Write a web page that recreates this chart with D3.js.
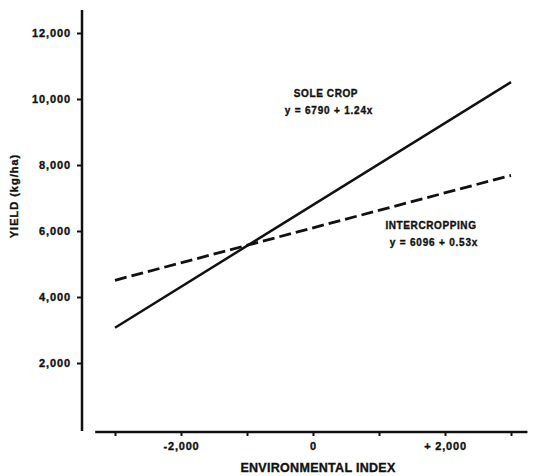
<!DOCTYPE html>
<html>
<head>
<meta charset="utf-8">
<script src="https://cdn.jsdelivr.net/npm/d3@7"></script>
<style>
  body { margin: 0; background: #fff; }
  svg text { font-family: "Liberation Sans", Arial, sans-serif; font-weight: bold; fill: #111; stroke: #111; stroke-width: 0.35px; }
</style>
</head>
<body>
<div id="chart"></div>
<script>
// Data
const envIndex = [-3000, 3000];
const soleCrop = [3070, 10510];     // y = 6790 + 1.24x
const intercrop = [4506, 7686];     // y = 6096 + 0.53x
const yTicks = [2000, 4000, 6000, 8000, 10000, 12000];
const xTicks = [-3000, -2000, -1000, 0, 1000, 2000, 3000];
const xTickLabels = ["", "-2,000", "", "0", "", "+ 2,000", ""];
const seriesNames = ["SOLE CROP", "INTERCROPPING"];
const equations = ["y = 6790 + 1.24x", "y = 6096 + 0.53x"];

const width = 540, height = 476;

const svg = d3.select("#chart")
    .append("svg")
    .attr("width", width)
    .attr("height", height);

const x = d3.scaleLinear().domain([-3000, 3000]).range([115, 511]);
const y = d3.scaleLinear().domain([0, 12000]).range([429, 33]);

// Y axis
const yAxis = svg.append("g")
    .attr("transform", "translate(82,0)")
    .call(d3.axisLeft(y)
        .tickValues(yTicks)
        .tickSize(5)
        .tickPadding(6)
        .tickFormat(d3.format(",")));
yAxis.select(".domain").remove();
yAxis.selectAll(".tick line").attr("stroke", "#111").attr("stroke-width", 2);
yAxis.selectAll(".tick text")
    .style("font-size", "11px")
    .style("letter-spacing", "0.9px")
    .style("font-family", "'Liberation Sans', Arial, sans-serif");
svg.append("line")
    .attr("x1", 82).attr("x2", 82)
    .attr("y1", y(-60)).attr("y2", y(12700))
    .attr("stroke", "#111").attr("stroke-width", 2.5);

// X axis
const xAxis = svg.append("g")
    .attr("transform", "translate(0,432)")
    .call(d3.axisBottom(x)
        .tickValues(xTicks)
        .tickSize(4)
        .tickPadding(6)
        .tickFormat((d, i) => xTickLabels[i]));
xAxis.select(".domain").remove();
xAxis.selectAll(".tick line").attr("stroke", "#111").attr("stroke-width", 2);
xAxis.selectAll(".tick text")
    .style("font-size", "11px")
    .style("letter-spacing", "0.8px")
    .style("font-family", "'Liberation Sans', Arial, sans-serif");
svg.append("line")
    .attr("x1", x(-3300)).attr("x2", x(3250))
    .attr("y1", 432).attr("y2", 432)
    .attr("stroke", "#111").attr("stroke-width", 2.5);

// Axis titles
svg.append("text")
    .attr("x", 318).attr("y", 472)
    .attr("text-anchor", "middle")
    .style("font-size", "12.5px")
    .style("letter-spacing", "0.3px")
    .text("ENVIRONMENTAL INDEX");

svg.append("text")
    .attr("transform", "translate(18,196) rotate(-90)")
    .attr("text-anchor", "middle")
    .style("font-size", "11px")
    .style("letter-spacing", "1px")
    .text("YIELD (kg/ha)");

// Regression lines
const line = d3.line()
    .x((d, i) => x(envIndex[i]))
    .y(d => y(d));

svg.append("path")
    .datum(soleCrop)
    .attr("d", line)
    .attr("fill", "none")
    .attr("stroke", "#111")
    .attr("stroke-width", 2.5);

svg.append("path")
    .datum(intercrop)
    .attr("d", line)
    .attr("fill", "none")
    .attr("stroke", "#111")
    .attr("stroke-width", 2.8)
    .attr("stroke-dasharray", "12,5");

// Annotations
const notes = [
    {cx: 326, cy: 97},
    {cx: 431, cy: 229}
];
notes.forEach((n, i) => {
    svg.append("text")
        .attr("x", n.cx).attr("y", n.cy)
        .attr("text-anchor", "middle")
        .style("font-size", "10px")
        .style("letter-spacing", "0.6px")
        .text(seriesNames[i]);
    svg.append("text")
        .attr("x", n.cx + 3).attr("y", n.cy + 17)
        .attr("text-anchor", "middle")
        .style("font-size", "10px")
        .style("letter-spacing", "0.8px")
        .text(equations[i]);
});
</script>
</body>
</html>
